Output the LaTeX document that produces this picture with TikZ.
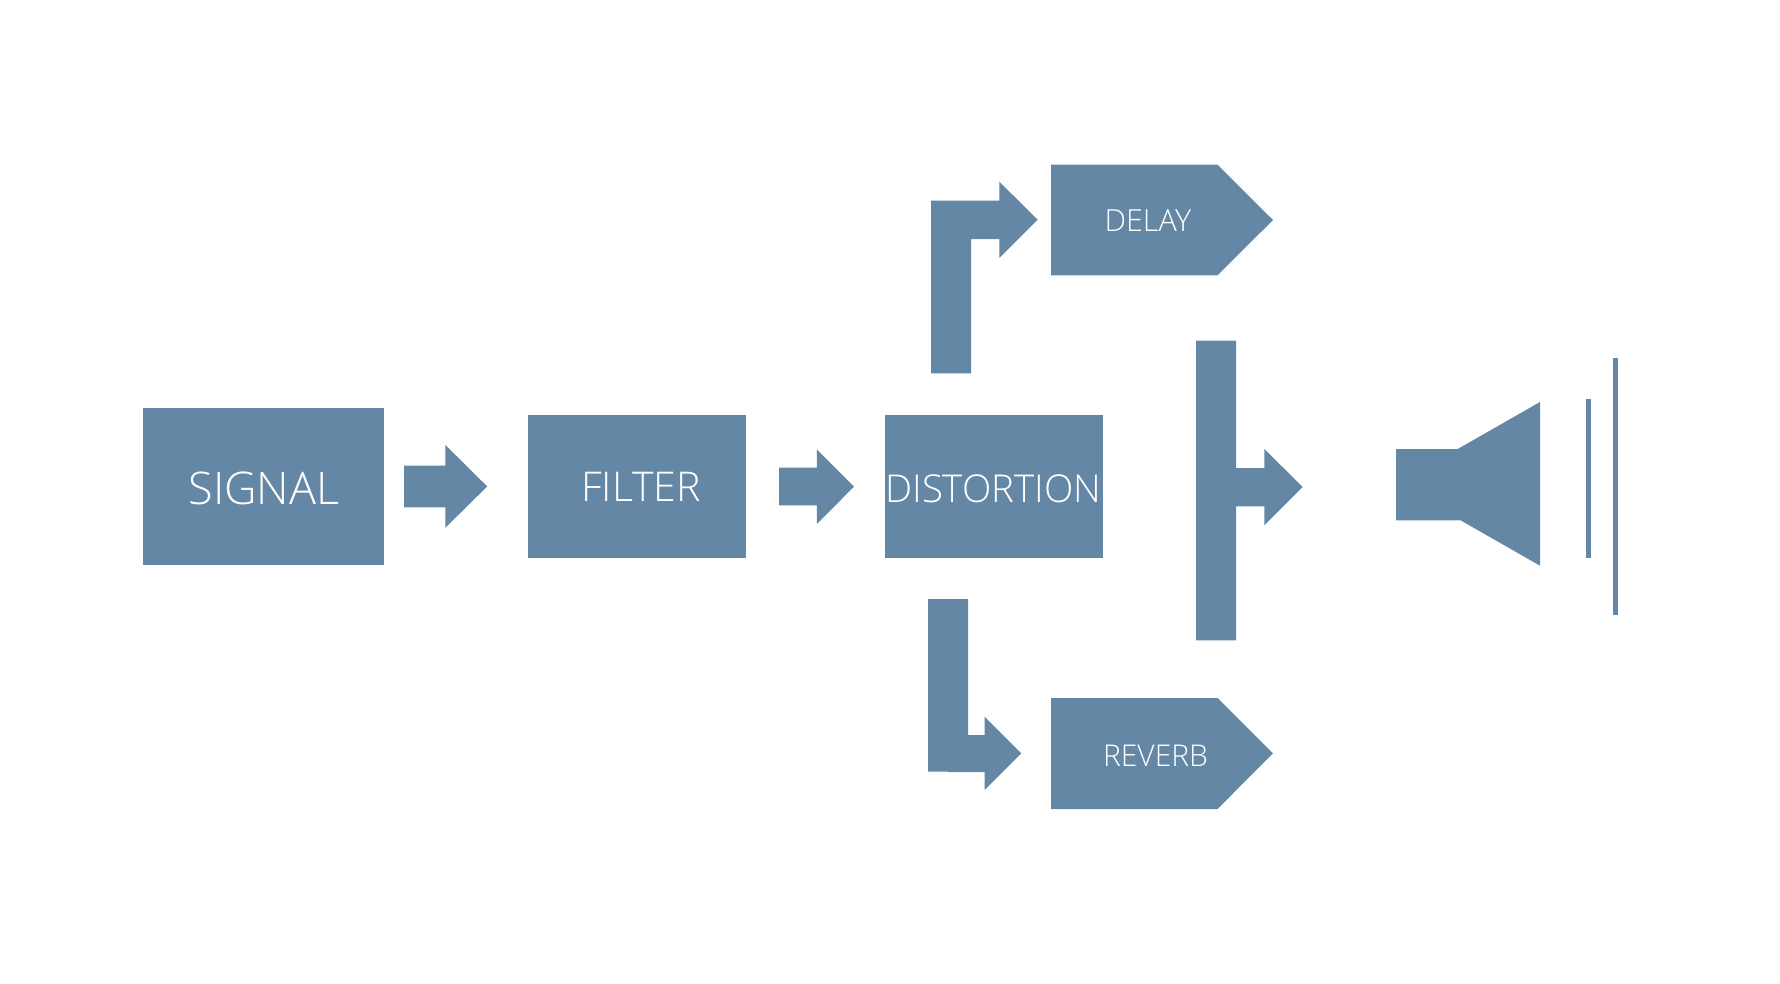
\documentclass[tikz,border=0pt]{standalone}
\usepackage{fontspec}
\setmainfont{Open Sans Light}
\definecolor{blockblue}{HTML}{6487A5}
\tikzset{
  x=1pt,y=-1pt,
  blockshape/.style={fill=blockblue,draw=none},
  blocktext/.style={text=white,inner sep=0pt,text depth=0pt,anchor=center},
  boxnode/.style={fill=blockblue,draw=none,inner sep=0pt,anchor=north west},
}
\newcommand{\labelsize}[1]{\fontsize{#1}{#1}\selectfont}
\begin{document}
\begin{tikzpicture}
\useasboundingbox (0,-0.7) rectangle (1780,982.3);
\fill[white] (0,-0.7) rectangle (1780,982.3);
% boxes
\node[boxnode,minimum width=241.5pt,minimum height=156.5pt] (signal) at (142.6,407.3) {};
\node[boxnode,minimum width=218pt,minimum height=142.4pt] (filter) at (528,414.3) {};
\node[boxnode,minimum width=218pt,minimum height=142.4pt] (distortion) at (885,414.3) {};
% pentagons
\path[blockshape] (1051,164) -- (1217.5,164) -- (1273,219.3) -- (1217.5,274.7) -- (1051,274.7) -- cycle;
\path[blockshape] (1051,697.3) -- (1217.5,697.3) -- (1273,752.7) -- (1217.5,808.3) -- (1051,808.3) -- cycle;
% straight arrows
\path[blockshape] (404,465) -- (445.4,465) -- (445.4,444.3) -- (487.2,485.7) -- (445.4,527) -- (445.4,506.7) -- (404,506.7) -- cycle;
\path[blockshape] (779,467) -- (816.8,467) -- (816.8,448.7) -- (854,486) -- (816.8,523.3) -- (816.8,504.7) -- (779,504.7) -- cycle;
% up-right arrow
\path[blockshape] (931,372.7) -- (931,200) -- (999.3,200) -- (999.3,181) -- (1037.7,219) -- (999.3,257.3) -- (999.3,238.3) -- (971,238.3) -- (971,372.7) -- cycle;
% down-right arrow
\path[blockshape] (928,598.3) -- (968,598.3) -- (968,734.3) -- (984.7,734.3) -- (984.7,716) -- (1021.3,752.7) -- (984.7,789.3) -- (984.7,771.3) -- (948,771.3) -- (948,771) -- (928,771) -- cycle;
% T bar with arrow
\path[blockshape] (1196,340) -- (1236,340) -- (1236,467.3) -- (1264.3,467.3) -- (1264.3,448.3) -- (1302.7,486.3) -- (1264.3,524.7) -- (1264.3,505.7) -- (1236,505.7) -- (1236,639.7) -- (1196,639.7) -- cycle;
% speaker
\path[blockshape] (1396,448.3) -- (1457.7,448.3) -- (1540,401.3) -- (1540,565) -- (1460.7,519.7) -- (1396,519.7) -- cycle;
\path[blockshape] (1585.6,398.3) rectangle (1590.6,557);
\path[blockshape] (1613,357) rectangle (1618,614);
% labels
\node[blocktext] (signaltext) at (264,487.3) {\labelsize{45}SIGNAL};
\node[blocktext] (filtertext) at (641,486.6) {\labelsize{41}FILTER};
\node[blocktext] (distortiontext) at (993.3,487.8) {\labelsize{38.4}DISTORTION};
\node[blocktext] (delaytext) at (1147.8,220) {\labelsize{30.5}DELAY};
\node[blocktext] (reverbtext) at (1155.5,754.8) {\labelsize{30}REVERB};
\end{tikzpicture}
\end{document}
